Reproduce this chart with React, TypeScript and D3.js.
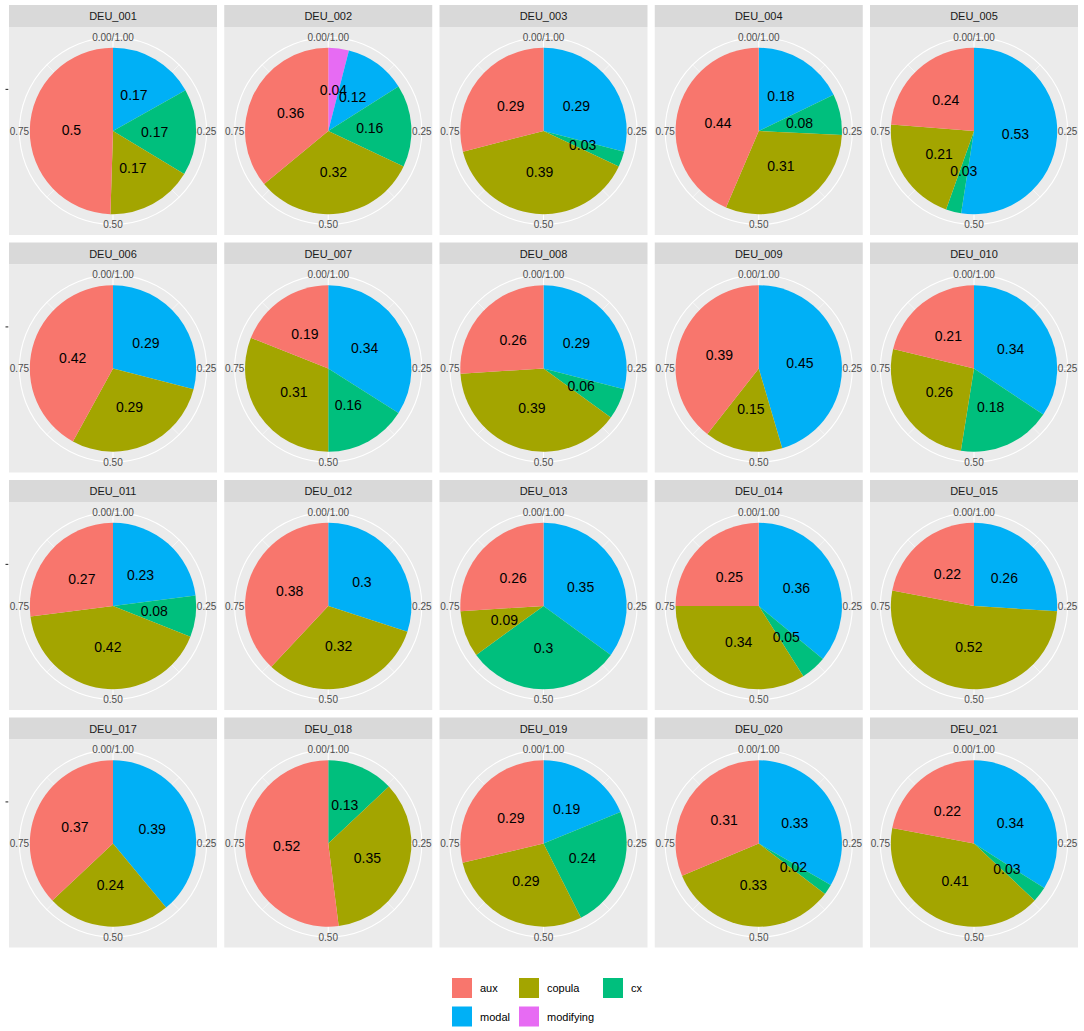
import * as d3 from 'd3'

// facets, in reading order
const panels = [
  'DEU_001', 'DEU_002', 'DEU_003', 'DEU_004', 'DEU_005',
  'DEU_006', 'DEU_007', 'DEU_008', 'DEU_009', 'DEU_010',
  'DEU_011', 'DEU_012', 'DEU_013', 'DEU_014', 'DEU_015',
  'DEU_017', 'DEU_018', 'DEU_019', 'DEU_020', 'DEU_021',
]

// shares per facet (0 = category absent)
const aux       = [0.5, 0.36, 0.29, 0.44, 0.24, 0.42, 0.19, 0.26, 0.39, 0.21, 0.27, 0.38, 0.26, 0.25, 0.22, 0.37, 0.52, 0.29, 0.31, 0.22]
const copula    = [0.17, 0.32, 0.39, 0.31, 0.21, 0.29, 0.31, 0.39, 0.15, 0.26, 0.42, 0.32, 0.09, 0.34, 0.52, 0.24, 0.35, 0.29, 0.33, 0.41]
const cx        = [0.17, 0.16, 0.03, 0.08, 0.03, 0, 0.16, 0.06, 0, 0.18, 0.08, 0, 0.3, 0.05, 0, 0, 0.13, 0.24, 0.02, 0.03]
const modal     = [0.17, 0.12, 0.29, 0.18, 0.53, 0.29, 0.34, 0.29, 0.45, 0.34, 0.23, 0.3, 0.35, 0.36, 0.26, 0.39, 0, 0.19, 0.33, 0.34]
const modifying = [0, 0.04, 0, 0, 0, 0, 0, 0, 0, 0, 0, 0, 0, 0, 0, 0, 0, 0, 0, 0]

const categories = ['aux', 'copula', 'cx', 'modal', 'modifying']
const palette    = ['#F8766D', '#A3A500', '#00BF7D', '#00B0F6', '#E76BF3']
const thetaTicks = [0, 0.25, 0.5, 0.75]
const thetaLabels = ['0.00/1.00', '0.25', '0.50', '0.75']

const W = 1084
const H = 1031
const NCOL = 5
const X0 = 9
const COL_STEP = 215.25
const Y0 = 5
const ROW_STEP = 237.5
const STRIP_H = 22
const PANEL = 208
const FONT = '"Liberation Sans", Arial, Helvetica, sans-serif'

const color = d3.scaleOrdinal<string, string>().domain(categories).range(palette)
const theta = d3.scaleLinear().domain([0, 1]).range([0, 2 * Math.PI])

const series: Record<string, number[]> = { aux, copula, cx, modal, modifying }
// ggplot stacks the last level first, clockwise from 12 o'clock
const stackOrder = [...categories].reverse()

const pie = d3.pie<{ key: string; value: number }>()
  .sort(null)
  .value(d => d.value)

const rPie = 0.4 * PANEL
const rOuter = 0.45 * PANEL
const arc = d3.arc<d3.PieArcDatum<{ key: string; value: number }>>()
  .innerRadius(0)
  .outerRadius(rPie)

function Panel({ i }: { i: number }) {
  const col = i % NCOL
  const row = Math.floor(i / NCOL)
  const x = X0 + col * COL_STEP
  const y = Y0 + row * ROW_STEP
  const cxp = x + PANEL / 2
  const cyp = y + STRIP_H + PANEL / 2

  const rows = stackOrder
    .map(k => ({ key: k, value: series[k][i] }))
    .filter(d => d.value > 0)
  const arcs = pie(rows)

  const minor = [0.125, 0.375, 0.625, 0.875]

  return (
    <g>
      <rect x={x} y={y} width={PANEL} height={STRIP_H} fill="#D9D9D9" />
      <text x={x + PANEL / 2} y={y + STRIP_H / 2} textAnchor="middle" dominantBaseline="central"
        fontSize={11} fill="#1A1A1A">{panels[i]}</text>
      <rect x={x} y={y + STRIP_H} width={PANEL} height={PANEL} fill="#EBEBEB" />
      <g transform={`translate(${cxp},${cyp})`}>
        {minor.map(t => (
          <line key={'mi' + t} x1={0} y1={0}
            x2={rOuter * Math.sin(theta(t))} y2={-rOuter * Math.cos(theta(t))}
            stroke="#fff" strokeWidth={0.55} />
        ))}
        {thetaTicks.map(t => (
          <line key={'ma' + t} x1={0} y1={0}
            x2={rOuter * Math.sin(theta(t))} y2={-rOuter * Math.cos(theta(t))}
            stroke="#fff" strokeWidth={1.1} />
        ))}
        <circle r={rOuter} fill="none" stroke="#fff" strokeWidth={1.1} />
        {arcs.map(a => (
          <path key={a.data.key} d={arc(a) as string} fill={color(a.data.key)} />
        ))}
        {arcs.map(a => {
          const [lx, ly] = arc.centroid(a)
          return (
            <text key={'l' + a.data.key} x={lx} y={ly} textAnchor="middle" dominantBaseline="central"
              fontSize={14} fill="#000">{String(a.data.value)}</text>
          )
        })}
        {thetaTicks.map((t, k) => (
          <text key={'t' + t} x={rOuter * Math.sin(theta(t))} y={-rOuter * Math.cos(theta(t))}
            textAnchor="middle" dominantBaseline="central" fontSize={10} fill="#4D4D4D">
            {thetaLabels[k]}
          </text>
        ))}
      </g>
      {col === 0 && (
        <line x1={X0 - 3.5} x2={X0 - 0.7} y1={cyp - rPie / 2} y2={cyp - rPie / 2}
          stroke="#333333" strokeWidth={1.1} />
      )}
    </g>
  )
}

// legend layout (two rows, three columns, filled by row)
const legendColX = [452, 519, 603]
const legendRowY = [978, 1006.5]
const KEY = 20

export default function App() {
  return (
    <svg width={W} height={H} style={{ position: 'absolute', left: 0, top: 0, background: '#fff' }}
      fontFamily={FONT}>
      <rect width={W} height={H} fill="#fff" />
      {panels.map((_, i) => <Panel key={i} i={i} />)}
      {categories.map((c, k) => {
        const lx = legendColX[k % 3]
        const ly = legendRowY[Math.floor(k / 3)]
        return (
          <g key={c}>
            <rect x={lx} y={ly} width={KEY} height={KEY} fill={color(c)} />
            <text x={lx + KEY + 8} y={ly + KEY / 2} dominantBaseline="central" fontSize={11} fill="#000">{c}</text>
          </g>
        )
      })}
    </svg>
  )
}
